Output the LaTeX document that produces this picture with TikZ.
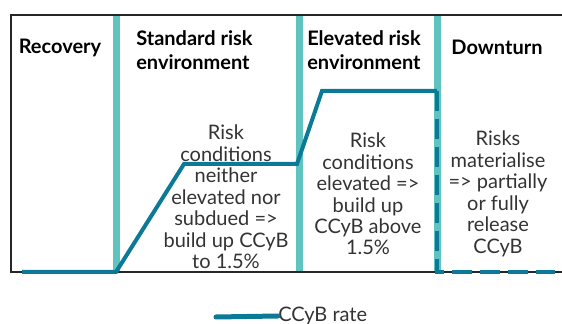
\documentclass[tikz,border=0pt]{standalone}
\usepackage{fontspec}
\setmainfont{Lato}
\usepackage{tikz}
\usepackage{xcolor}
\definecolor{barteal}{RGB}{95,196,192}
\definecolor{rateblue}{RGB}{12,122,150}

\begin{document}
\begin{tikzpicture}[x=0.75pt, y=-0.75pt,
    phase/.style={font=\fontsize{15}{18}\selectfont\bfseries, align=left, inner sep=0pt},
    note/.style={font=\fontsize{15}{16.1}\selectfont, align=center, text=black!80, inner sep=0pt}]
    \useasboundingbox (0,0) rectangle (562,324);

    % phase separators
    \foreach \xb in {116,299,437}
        \draw[barteal, line width=5.25pt] (\xb,15) -- (\xb,272);

    % frame
    \draw[black!85, line width=1.5pt] (562,15) -- (11,15) -- (11,272) -- (562,272);

    % CCyB path
    \draw[rateblue, line width=3pt, line join=miter] (22,272) -- (116,272) -- (184,164) -- (297,164) -- (322,91) -- (437,91);
    \draw[rateblue, line width=3pt, dash pattern=on 15pt off 6pt] (437,91) -- (437,272) -- (555,272);

    % headings
    \node[phase] (recovery) at (60,48) {Recovery};
    \node[phase, anchor=west] (standard) at (136,50) {Standard risk\\environment};
    \node[phase, anchor=west] (elevated) at (307,50) {Elevated risk\\environment};
    \node[phase] (downturn) at (497,47) {Downturn};

    % descriptions
    \node[note] (standardtxt) at (226,197) {Risk\\conditions\\neither\\elevated nor\\subdued =>\\build up CCyB\\to 1.5\%};
    \node[note] (elevatedtxt) at (368,194) {Risk\\conditions\\elevated =>\\build up\\CCyB above\\1.5\%};
    \node[note] (downturntxt) at (498,194) {Risks\\materialise\\=> partially\\or fully\\release\\CCyB};

    % legend
    \coordinate (legstart) at (216,317);
    \node[note, anchor=west] (legtxt) at (278,316) {CCyB rate};
    \draw[rateblue, line width=3.75pt, line cap=round] (legstart) -- (legtxt.west);
\end{tikzpicture}
\end{document}
